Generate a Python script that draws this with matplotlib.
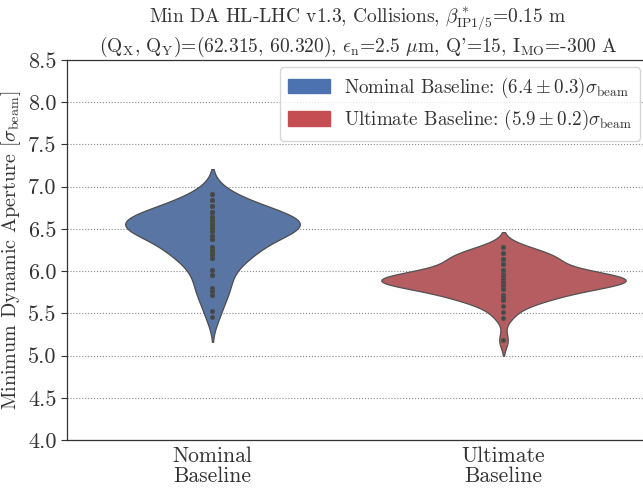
import numpy as np
import pandas as pd
import matplotlib
matplotlib.use("Agg")
import matplotlib.pyplot as plt
from matplotlib.patches import Patch
import seaborn as sns

# Minimum DA per seed (in sigma_beam), 60 seeds per configuration
nominal_levels = [6.91, 6.84, 6.77, 6.70, 6.64, 6.61, 6.57, 6.55, 6.51, 6.48, 6.42, 6.38,
                  6.29, 6.25, 6.22, 6.19, 6.16, 6.01, 5.95, 5.80, 5.77, 5.72, 5.53, 5.46]
nominal_counts = [2, 2, 3, 4, 4, 3, 4, 5, 4, 3, 3, 3,
                  2, 2, 2, 1, 3, 2, 2, 1, 1, 2, 1, 1]
ultimate_levels = [6.28, 6.21, 6.14, 6.08, 6.01, 5.97, 5.94, 5.91, 5.875, 5.84, 5.79, 5.72,
                   5.69, 5.66, 5.59, 5.52, 5.45, 5.18]
ultimate_counts = [2, 4, 5, 3, 3, 3, 5, 6, 7, 6, 4, 3,
                   2, 3, 1, 1, 1, 1]

categories = ["Nominal\nBaseline", "Ultimate\nBaseline"]
legend_names = ["Nominal Baseline", "Ultimate Baseline"]
colors = ["#4C72B0", "#C44E52"]
violin_widths = [0.60, 0.84]
yticks = [4.0, 4.5, 5.0, 5.5, 6.0, 6.5, 7.0, 7.5, 8.0, 8.5]

nominal = np.repeat(nominal_levels, nominal_counts)
ultimate = np.repeat(ultimate_levels, ultimate_counts)

df = pd.DataFrame({
    "case": [categories[0]] * len(nominal) + [categories[1]] * len(ultimate),
    "da": np.concatenate([nominal, ultimate]),
})

plt.rcParams["font.family"] = ["cmr10", "DejaVu Serif"]
plt.rcParams["mathtext.fontset"] = "cm"
plt.rcParams["axes.formatter.use_mathtext"] = True
plt.rcParams["axes.unicode_minus"] = False

txt = "#333333"
fig = plt.figure(figsize=(6.43, 4.92), dpi=100)
# axes runs slightly past the right edge of the canvas
ax = fig.add_axes([67 / 643, 1 - 440 / 492, 582 / 643, 380 / 492])

ax.grid(True, color="#888888", linestyle=":", linewidth=0.8, zorder=0)
ax.set_axisbelow(True)

for cat, col, w in zip(categories, colors, violin_widths):
    sns.violinplot(data=df[df["case"] == cat], x="case", y="da", order=categories,
                   color=col, width=w, density_norm="width",
                   inner="point", linewidth=0.9, ax=ax,
                   inner_kws=dict(s=7, color="#404040"))

ax.set_xlim(-0.5, 1.5)
ax.set_ylim(4.0, 8.5)
ax.set_yticks(yticks)
ax.set_yticklabels([f"{v:.1f}" for v in yticks])
ax.tick_params(axis="y", labelsize=16, colors=txt, length=4, width=0.8)
ax.tick_params(axis="x", labelsize=15.5, colors=txt, length=0, pad=5)
for lbl in ax.get_xticklabels():
    lbl.set_linespacing(1.0)
ax.set_xlabel("")
ax.set_ylabel(r"Minimum Dynamic Aperture [$\sigma_{\mathrm{beam}}$]", fontsize=14.5,
              color=txt, labelpad=4)

for s in ["left", "bottom", "top"]:
    ax.spines[s].set_color("#333333")
    ax.spines[s].set_linewidth(0.9)
ax.spines["right"].set_visible(False)

ax.set_title("Min DA HL-LHC v1.3, Collisions, $\\beta^*_{\\mathrm{IP1/5}}$=0.15 m\n"
             "($\\mathrm{Q_X}$, $\\mathrm{Q_Y}$)=(62.315, 60.320), $\\epsilon_{\\mathrm{n}}$=2.5 $\\mu$m, "
             "Q'=15, $\\mathrm{I_{MO}}$=-300 A",
             fontsize=14, color=txt, pad=6, linespacing=1.15)

handles = []
for name, col, vals in zip(legend_names, colors, [nominal, ultimate]):
    m, sd = vals.mean(), vals.std()
    handles.append(Patch(facecolor=col, edgecolor=col,
                         label=f"{name}: $({m:.1f} \\pm {sd:.1f})\\sigma_{{\\mathrm{{beam}}}}$"))
leg = ax.legend(handles=handles, loc="upper right", fontsize=13.7, frameon=True,
                handlelength=2.2, handleheight=0.8, borderpad=0.45, labelspacing=0.45,
                handletextpad=0.7, borderaxespad=0,
                bbox_to_anchor=((640 - 67) / 582, (440 - 67) / 380))
for t in leg.get_texts():
    t.set_color(txt)
leg.get_frame().set_edgecolor("#cccccc")

fig.savefig("out.png", dpi=100)
